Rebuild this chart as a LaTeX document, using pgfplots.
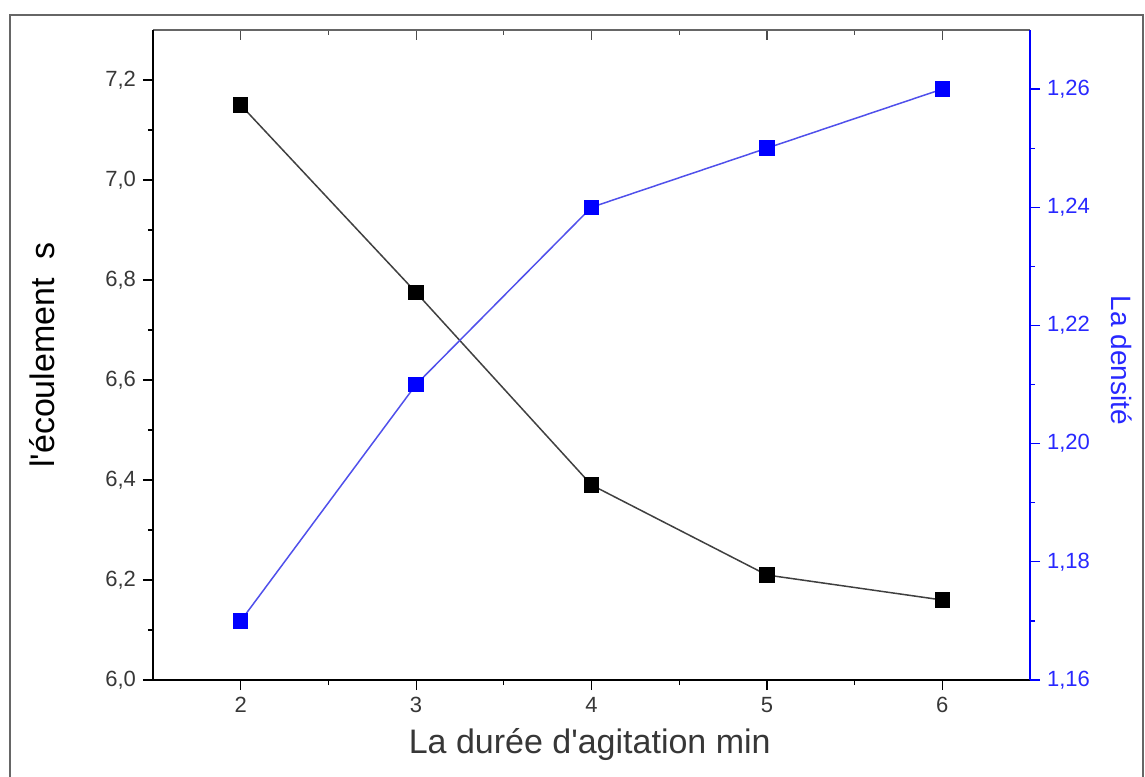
\documentclass[border=0pt]{standalone}
\usepackage{pgfplots}
\pgfplotsset{compat=1.18}
\usepackage{fontspec}
\setmainfont{Liberation Sans}

\definecolor{mkblue}{RGB}{0,0,255}
\definecolor{lnblue}{RGB}{80,80,235}
\definecolor{txtblue}{RGB}{40,40,255}
\definecolor{txtgray}{RGB}{55,55,55}

% flow time (s) vs stirring time (min)
\pgfplotstableread{
x y
2 7.15
3 6.775
4 6.39
5 6.21
6 6.16
}\flowdata

% density vs stirring time (min)
\pgfplotstableread{
x d
2 1.17
3 1.21
4 1.24
5 1.25
6 1.26
}\densdata

\pgfplotsset{
  common/.style={
    width=438.5pt, height=325pt, scale only axis,
    xmin=1.5, xmax=6.5,
    xtick={2,3,4,5,6},
    minor x tick num=1,
    tick align=outside,
    major tick length=5pt, minor tick length=2.5pt,
    axis line style={-, line width=0.8pt},
    /pgf/number format/assume math mode=true,
    ticklabel style={font=\fontsize{11}{13}\selectfont},
  }
}

\begin{document}
\begin{tikzpicture}
\useasboundingbox (-76.5pt,-48pt) rectangle (496pt,340pt);
\draw[black!60, line width=1.3pt] (-71.5pt,-60pt) -- (-71.5pt,332.5pt) -- (495pt,332.5pt) -- (495pt,-60pt);

% top border with inward ticks
\begin{axis}[common,
  axis x line*=top, axis y line=none,
  ymin=0, ymax=1,
  tick align=inside,
  xticklabels={},
  axis line style={black!60},
  tick style={black!70, line width=0.6pt},
]
\end{axis}

% left axis: flow time
\begin{axis}[common,
  axis x line*=bottom, axis y line*=left,
  ymin=6, ymax=7.3,
  ytick={6,6.2,6.4,6.6,6.8,7.0,7.2},
  minor y tick num=1,
  tick style={black, line width=0.6pt},
  ticklabel style={text=txtgray},
  yticklabel style={/pgf/number format/.cd, use comma, fixed, fixed zerofill, precision=1},
  xlabel={La durée d\textquotesingle agitation min},
  ylabel={l\textquotesingle écoulement\ \ s},
  xlabel style={at={(axis description cs:0.498,-0.1)}, anchor=center, text=txtgray, font=\fontsize{17}{20}\selectfont},
  ylabel style={at={(axis description cs:-0.1266,0.5)}, anchor=center, text=black, font=\fontsize{17}{20}\selectfont},
]
\addplot[black!75, line width=0.75pt, mark=square*, mark size=3.5pt,
  mark options={fill=black, draw=black, solid}] table[x=x, y=y] {\flowdata};
\end{axis}

% right axis: density
\begin{axis}[common,
  axis x line=none, axis y line*=right,
  ymin=1.16, ymax=1.27,
  ytick={1.16,1.18,1.20,1.22,1.24,1.26},
  minor y tick num=1,
  axis line style={mkblue},
  tick style={mkblue, line width=0.6pt},
  ticklabel style={text=txtblue},
  yticklabel style={/pgf/number format/.cd, use comma, fixed, fixed zerofill, precision=2},
  ylabel={La densité},
  every axis y label/.style={at={(axis description cs:1.104,0.492)}, anchor=center, rotate=-90, text=txtblue, font=\fontsize{14}{17}\selectfont},
]
\addplot[lnblue, line width=0.75pt, mark=square*, mark size=3.5pt,
  mark options={fill=mkblue, draw=mkblue, solid}] table[x=x, y=d] {\densdata};
\end{axis}
\end{tikzpicture}
\end{document}
